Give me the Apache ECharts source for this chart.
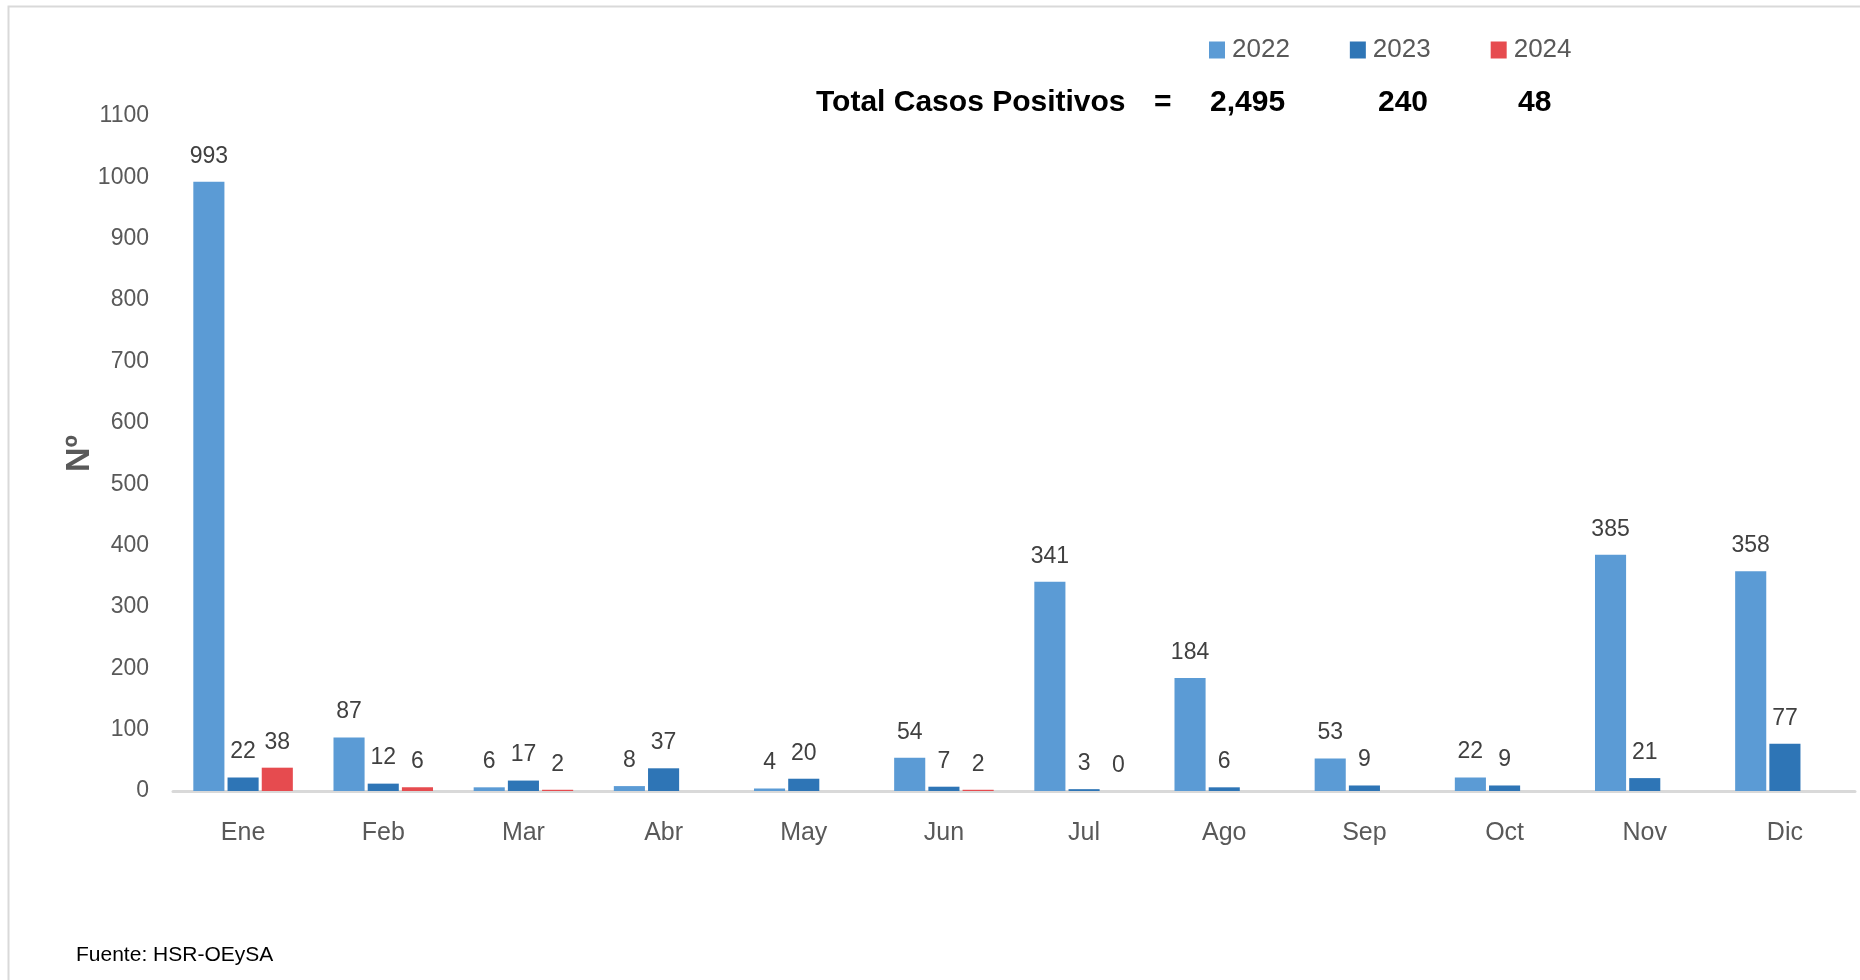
<!DOCTYPE html>
<html>
<head>
<meta charset="utf-8">
<script src="https://cdn.jsdelivr.net/npm/echarts@6/dist/echarts.min.js"></script>
<style>html,body{margin:0;padding:0;background:#fff}#c{width:1860px;height:980px}</style>
</head>
<body>
<div id="c"></div>
<script>
var months = ['Ene','Feb','Mar','Abr','May','Jun','Jul','Ago','Sep','Oct','Nov','Dic'];
var years = ['2022','2023','2024'];
var v2022 = [993, 87, 6, 8, 4, 54, 341, 184, 53, 22, 385, 358];
var v2023 = [22, 12, 17, 37, 20, 7, 3, 6, 9, 9, 21, 77];
var v2024 = [38, 6, 2, null, null, 2, 0, null, null, null, null, null];
var yTicks = [0,100,200,300,400,500,600,700,800,900,1000,1100];

var FONT = '"Liberation Sans", Arial, sans-serif';
function total(a){ return a.reduce(function(s,x){ return s + (x||0); }, 0); }
function fmt(n){ return n.toString().replace(/\B(?=(\d{3})+(?!\d))/g, ','); }

var colors = ['#5b9bd5', '#2e75b6', '#e64b4f'];
var seriesData = [v2022, v2023, v2024];
var totals = seriesData.map(total);

var chart = echarts.init(document.getElementById('c'), null, {renderer:'canvas'});
var option = {
  backgroundColor: '#fff',
  animation: false,
  textStyle: { fontFamily: FONT },
  legend: {
    left: 1204, top: 32,
    itemWidth: 16, itemHeight: 17, itemGap: 60,
    icon: 'rect',
    data: years,
    textStyle: { fontSize: 26, color: '#595959', fontFamily: FONT, padding: [0,0,0,2] }
  },
  grid: { left: 173, right: 5, top: 116, bottom: 189, containLabel: false },
  xAxis: {
    type: 'category',
    data: months,
    axisLine: { lineStyle: { color: '#d9d9d9', width: 3 } },
    axisTick: { show: false },
    axisLabel: { fontSize: 25, color: '#595959', margin: 30, fontFamily: FONT }
  },
  yAxis: {
    type: 'value',
    min: yTicks[0], max: yTicks[yTicks.length-1], interval: 100,
    name: 'Nº',
    nameLocation: 'middle',
    nameGap: 76,
    nameMoveOverlap: false,
    nameRotate: 90,
    nameTextStyle: { fontSize: 34, fontWeight: 'bold', color: '#595959', fontFamily: FONT },
    axisLine: { show: false },
    axisTick: { show: false },
    splitLine: { show: false },
    axisLabel: { fontSize: 23, color: '#595959', margin: 24, fontFamily: FONT,
      formatter: function(v){ return String(v); } }
  },
  series: years.map(function(y, i){
    return {
      name: y,
      type: 'bar',
      data: seriesData[i],
      barCategoryGap: '29%',
      barGap: '10%',
      itemStyle: { color: colors[i] },
      label: {
        show: true, position: 'top', distance: 14,
        fontSize: 23, color: '#404040', fontFamily: FONT
      }
    };
  }),
  graphic: [
    { type: 'rect', left: 6, top: 4, silent: true,
      shape: { width: 1900, height: 1000 },
      style: { fill: 'none', stroke: '#d9d9d9', lineWidth: 2 } },
    { type: 'text', left: 816, top: 88,
      style: { text: 'Total Casos Positivos', font: 'bold 30px ' + FONT, fill: '#000' } },
    { type: 'text', left: 1154, top: 88,
      style: { text: '=', font: 'bold 30px ' + FONT, fill: '#000' } },
    { type: 'text', left: 1210, top: 88,
      style: { text: fmt(totals[0]), font: 'bold 30px ' + FONT, fill: '#000' } },
    { type: 'text', left: 1378, top: 88,
      style: { text: fmt(totals[1]), font: 'bold 30px ' + FONT, fill: '#000' } },
    { type: 'text', left: 1518, top: 88,
      style: { text: fmt(totals[2]), font: 'bold 30px ' + FONT, fill: '#000' } },
    { type: 'text', left: 76, top: 945,
      style: { text: 'Fuente: HSR-OEySA', font: '21px ' + FONT, fill: '#000' } }
  ]
};
chart.setOption(option);
</script>
</body>
</html>
